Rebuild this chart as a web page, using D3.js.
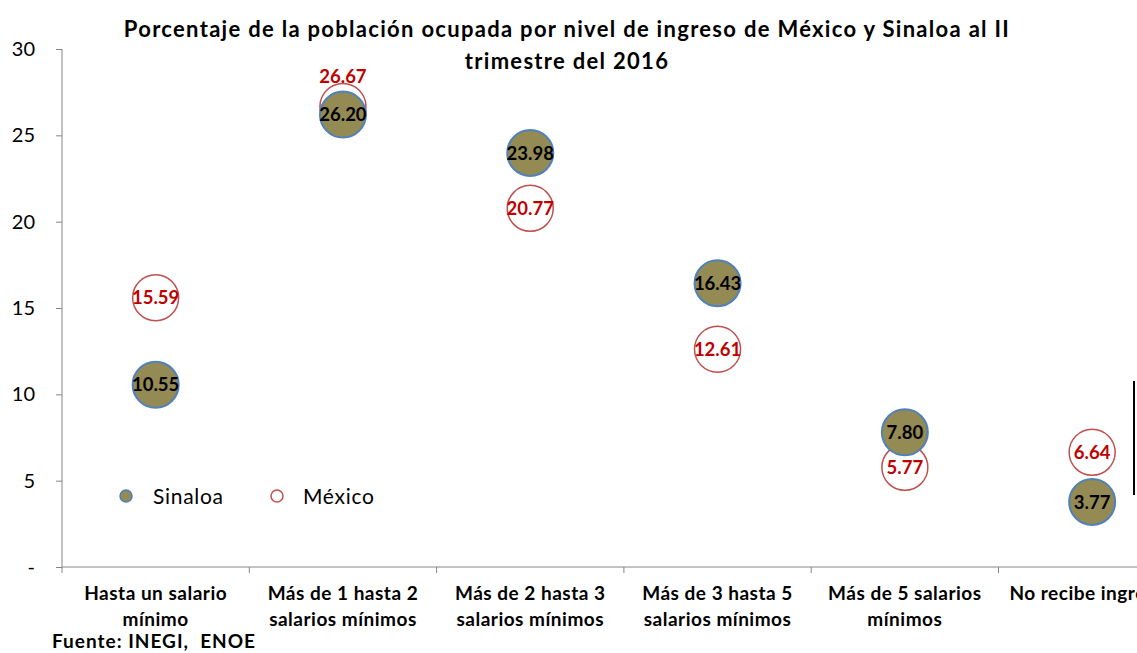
<!DOCTYPE html>
<html>
<head>
<meta charset="utf-8">
<script src="https://cdn.jsdelivr.net/npm/d3@7"></script>
<style>
  body { margin: 0; background: #fff; }
  text { font-family: Lato, "Open Sans", sans-serif; }
  .axis path, .axis line { stroke: #868686; }
  .axis text { font-size: 20px; fill: #000; }
</style>
</head>
<body>
<div id="chart"></div>
<script>
// categories and series
var categories = [
  ['Hasta un salario', 'mínimo'],
  ['Más de 1 hasta 2', 'salarios mínimos'],
  ['Más de 2 hasta 3', 'salarios mínimos'],
  ['Más de 3 hasta 5', 'salarios mínimos'],
  ['Más de 5 salarios', 'mínimos'],
  ['No recibe ingresos']
];
var sinaloa = [10.55, 26.20, 23.98, 16.43, 7.80, 3.77];
var mexico = [15.59, 26.67, 20.77, 12.61, 5.77, 6.64];
var yTicks = [0, 5, 10, 15, 20, 25, 30];
var titleLines = [
  'Porcentaje de la población ocupada por nivel de ingreso de México y Sinaloa al II',
  'trimestre del 2016'
];

var W = 1137, H = 653;
var margin = { top: 49, left: 62, bottom: 86 };
var plotH = H - margin.top - margin.bottom;
var bandW = 187.3;

var svg = d3.select('#chart').append('svg')
    .attr('width', W)
    .attr('height', H);

var x = d3.scaleBand()
    .domain(d3.range(categories.length))
    .range([margin.left, margin.left + bandW * categories.length]);
var y = d3.scaleLinear().domain([0, 30]).range([margin.top + plotH, margin.top]);

// y axis
var yAxis = d3.axisLeft(y)
    .tickValues(yTicks)
    .tickSize(6)
    .tickPadding(21)
    .tickFormat(function (d) { return d === 0 ? '-' : d; });
var gy = svg.append('g')
    .attr('class', 'axis')
    .attr('transform', 'translate(' + margin.left + ',0)')
    .call(yAxis);
gy.select('.domain').attr('d', 'M0,' + y(30) + 'V' + y(0));

// x axis
var gx = svg.append('g')
    .attr('class', 'axis')
    .attr('transform', 'translate(0,' + y(0) + ')');
gx.append('line')
    .attr('x1', margin.left).attr('x2', W)
    .attr('y1', 0).attr('y2', 0);
gx.selectAll('.tk')
    .data(d3.range(categories.length + 1))
    .enter().append('line')
    .attr('class', 'tk')
    .attr('x1', function (i) { return margin.left + i * x.step(); })
    .attr('x2', function (i) { return margin.left + i * x.step(); })
    .attr('y1', 0).attr('y2', 6);

var catLabels = svg.append('g').selectAll('text')
    .data(categories)
    .enter().append('text')
    .attr('x', function (d, i) { return x(i) + x.bandwidth() / 2; })
    .attr('y', y(0) + 33)
    .attr('text-anchor', 'middle')
    .style('font-size', '19px')
    .style('letter-spacing', '0.5px')
    .style('font-weight', 'bold');
catLabels.selectAll('tspan')
    .data(function (d) { return d; })
    .enter().append('tspan')
    .attr('x', function () { return this.parentNode.getAttribute('x'); })
    .attr('dy', function (d, j) { return j === 0 ? 0 : 26; })
    .text(function (d) { return d; });

// bubbles
var r = 23;
var cx = function (d, i) { return x(i) + x.bandwidth() / 2; };

svg.append('g').selectAll('circle')
    .data(mexico)
    .enter().append('circle')
    .attr('cx', cx)
    .attr('cy', function (d) { return y(d); })
    .attr('r', r)
    .attr('fill', '#fff')
    .attr('stroke', '#C0504D')
    .attr('stroke-width', 1.5);

svg.append('g').selectAll('circle')
    .data(sinaloa)
    .enter().append('circle')
    .attr('cx', cx)
    .attr('cy', function (d) { return y(d); })
    .attr('r', r)
    .attr('fill', '#948A54')
    .attr('stroke', '#4F81BD')
    .attr('stroke-width', 2);

// value labels
svg.append('g').selectAll('text')
    .data(sinaloa)
    .enter().append('text')
    .attr('x', cx)
    .attr('y', function (d) { return y(d); })
    .attr('dy', '0.36em')
    .attr('text-anchor', 'middle')
    .style('font-size', '18.5px')
    .style('font-weight', 'bold')
    .attr('fill', '#000')
    .text(function (d) { return d.toFixed(2); });

svg.append('g').selectAll('text')
    .data(mexico)
    .enter().append('text')
    .attr('x', cx)
    .attr('y', function (d, i) {
      // label sits above the bubble when it would collide with the Sinaloa one
      var close = Math.abs(y(d) - y(sinaloa[i])) < 2 * r && d > sinaloa[i];
      return close ? y(d) - r - 7 : y(d);
    })
    .attr('dy', '0.36em')
    .attr('text-anchor', 'middle')
    .style('font-size', '18.5px')
    .style('font-weight', 'bold')
    .attr('fill', '#C00000')
    .text(function (d) { return d.toFixed(2); });

// title
svg.append('text')
    .attr('x', 567)
    .attr('y', 37)
    .attr('text-anchor', 'middle')
    .style('font-size', '22px')
    .style('letter-spacing', '1.3px')
    .style('font-weight', 'bold')
    .selectAll('tspan')
    .data(titleLines)
    .enter().append('tspan')
    .attr('x', 567)
    .attr('dy', function (d, i) { return i === 0 ? 0 : 32; })
    .text(function (d) { return d; });

// legend
var legend = svg.append('g').attr('transform', 'translate(126,496)');
legend.append('circle').attr('r', 6)
    .attr('fill', '#948A54').attr('stroke', '#4F81BD').attr('stroke-width', 1.5);
legend.append('text').attr('x', 27).attr('dy', '0.36em')
    .style('font-size', '21px').style('letter-spacing', '0.7px').text('Sinaloa');
legend.append('circle').attr('cx', 151).attr('r', 6)
    .attr('fill', '#fff').attr('stroke', '#C0504D').attr('stroke-width', 1.5);
legend.append('text').attr('x', 177).attr('dy', '0.36em')
    .style('font-size', '21px').style('letter-spacing', '0.7px').text('México');

// stray vertical bar at the right edge
svg.append('line')
    .attr('x1', 1134).attr('x2', 1134)
    .attr('y1', 381).attr('y2', 495)
    .attr('stroke', '#000').attr('stroke-width', 2);

// source
svg.append('text')
    .attr('x', 52).attr('y', 648)
    .style('font-size', '19px')
    .style('letter-spacing', '1px')
    .style('font-weight', 'bold')
    .style('white-space', 'pre')
    .text('Fuente: INEGI,  ENOE');
</script>
</body>
</html>
